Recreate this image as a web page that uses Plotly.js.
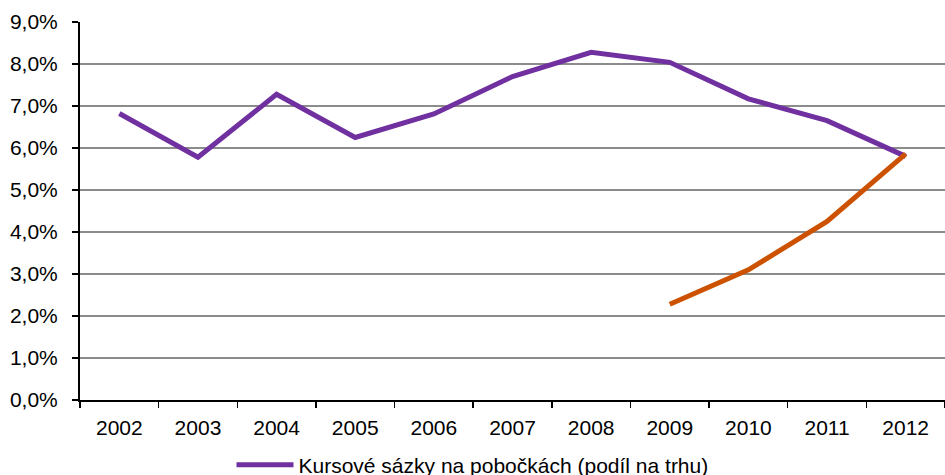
<!DOCTYPE html>
<html>
<head>
<meta charset="utf-8">
<script src="https://cdn.plot.ly/plotly-3.0.1.min.js"></script>
<style>
html,body{margin:0;padding:0;overflow:hidden;background:#fff;}
#chart{width:945px;height:475px;}
</style>
</head>
<body>
<div id="chart"></div>
<script>
const years = ["2002","2003","2004","2005","2006","2007","2008","2009","2010","2011","2012"];
const branchShare = [6.82, 5.78, 7.28, 6.25, 6.81, 7.70, 8.28, 8.04, 7.17, 6.65, 5.80];
const onlineYears = ["2009","2010","2011","2012"];
const onlineShare = [2.28, 3.10, 4.25, 5.86];
const yTicks = [0,1,2,3,4,5,6,7,8,9];
const yTickLabels = ["0,0%","1,0%","2,0%","3,0%","4,0%","5,0%","6,0%","7,0%","8,0%","9,0%"];
const branchName = "Kursové sázky na pobočkách (podíl na trhu)";

const traces = [
  {x: years, y: branchShare, type: "scatter", mode: "lines", name: branchName,
   line: {color: "#7030A0", width: 5}},
  {x: onlineYears, y: onlineShare, type: "scatter", mode: "lines", showlegend: false,
   line: {color: "#CC5200", width: 5}}
];

const layout = {
  width: 945, height: 475,
  margin: {l: 80, r: 0, t: 22, b: 75, pad: 0},
  paper_bgcolor: "#fff", plot_bgcolor: "#fff",
  font: {family: "Liberation Sans, Arial, sans-serif", size: 21, color: "#000"},
  showlegend: true,
  legend: {orientation: "h", x: 0.5, xanchor: "center", xref: "container",
           y: 0.021, yanchor: "middle", yref: "container",
           font: {size: 21, color: "#000"}, itemwidth: 57, bgcolor: "rgba(0,0,0,0)"},
  xaxis: {type: "category", categoryarray: years, categoryorder: "array",
          tickson: "boundaries", ticks: "outside", ticklen: 6, tickcolor: "#000", tickwidth: 1.5,
          showline: true, linecolor: "#000", linewidth: 2, showgrid: false, zeroline: false,
          range: [-0.5, 10.5], ticklabelstandoff: 8},
  yaxis: {range: [0, 9], tickvals: yTicks, ticktext: yTickLabels,
          ticks: "outside", ticklen: 6, tickcolor: "#000", tickwidth: 1.5,
          showline: true, linecolor: "#000", linewidth: 2,
          showgrid: true, gridcolor: "#8c8c8c", gridwidth: 1.5, zeroline: false,
          ticklabelstandoff: 10}
};

Plotly.newPlot("chart", traces, layout, {displayModeBar: false, staticPlot: true});
</script>
</body>
</html>
